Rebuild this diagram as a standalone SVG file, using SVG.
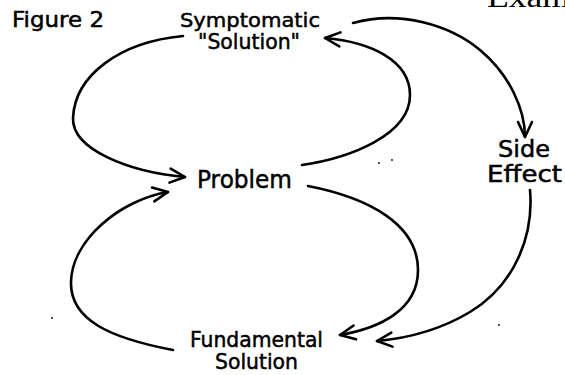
<svg xmlns="http://www.w3.org/2000/svg" width="565" height="375" viewBox="0 0 565 375">
<style>
.lbl{font-family:"DejaVu Sans","Liberation Sans",sans-serif;fill:#000;stroke:#000;stroke-width:0.5}
.c{fill:none;stroke:#000;stroke-width:2.6;stroke-linecap:round;stroke-linejoin:round}
.hdr{font-family:"Liberation Serif",serif;fill:#000}
</style>
<defs>
<marker id="ah" markerUnits="userSpaceOnUse" viewBox="-18 -9 20 18" refX="0" refY="0" markerWidth="20" markerHeight="18" orient="auto" overflow="visible">
<path d="M-15,-7 L0,0 L-15,7" fill="none" stroke="#000" stroke-width="2.6" stroke-linecap="round" stroke-linejoin="round"/>
</marker>
</defs>
<rect width="565" height="375" fill="#fff"/>
<text class="hdr" x="487" y="7" font-size="30" textLength="83" lengthAdjust="spacingAndGlyphs">Exam</text>
<text class="lbl" x="12" y="27" font-size="21" textLength="92" lengthAdjust="spacingAndGlyphs">Figure 2</text>
<g id="connectors">
<path class="c" d="M183,36 C120,42 75,75 73,118 C72,150 130,172 185,177" marker-end="url(#ah)"/>
<path class="c" d="M173,350 C110,338 70,320 71,282 C72,240 120,200 168,192" marker-end="url(#ah)"/>
<path class="c" d="M302,165 C350,158 410,135 410,95 C410,60 370,42 325,38" marker-end="url(#ah)"/>
<path class="c" d="M308,186 C370,198 418,225 418,270 C418,310 380,328 340,335" marker-end="url(#ah)"/>
<path class="c" d="M353,23 C400,10 450,25 480,50 C510,75 525,110 525,137" marker-end="url(#ah)"/>
<path class="c" d="M530,190 C534,235 515,285 470,312 C440,330 410,338 377,341" marker-end="url(#ah)"/>
</g>
<g id="symptomatic">
<text class="lbl" x="180" y="27" font-size="20" textLength="140" lengthAdjust="spacingAndGlyphs">Symptomatic</text>
<text class="lbl" x="198" y="49" font-size="21" textLength="102" lengthAdjust="spacingAndGlyphs">"Solution"</text>
</g>
<g id="problem">
<text class="lbl" x="197" y="188" font-size="25" textLength="95" lengthAdjust="spacingAndGlyphs">Problem</text>
</g>
<g id="side-effect">
<text class="lbl" x="498" y="157" font-size="23" textLength="52" lengthAdjust="spacingAndGlyphs">Side</text>
<text class="lbl" x="487" y="182" font-size="23" textLength="75" lengthAdjust="spacingAndGlyphs">Effect</text>
</g>
<g id="fundamental">
<text class="lbl" x="190" y="347" font-size="21" textLength="133" lengthAdjust="spacingAndGlyphs">Fundamental</text>
<text class="lbl" x="215" y="369" font-size="21" textLength="83" lengthAdjust="spacingAndGlyphs">Solution</text>
</g>
<g fill="#000">
<circle cx="379" cy="163" r="0.9"/>
<circle cx="392" cy="160" r="0.9"/>
<circle cx="52" cy="318" r="0.9"/>
<circle cx="499" cy="325" r="0.9"/>
</g>
</svg>
